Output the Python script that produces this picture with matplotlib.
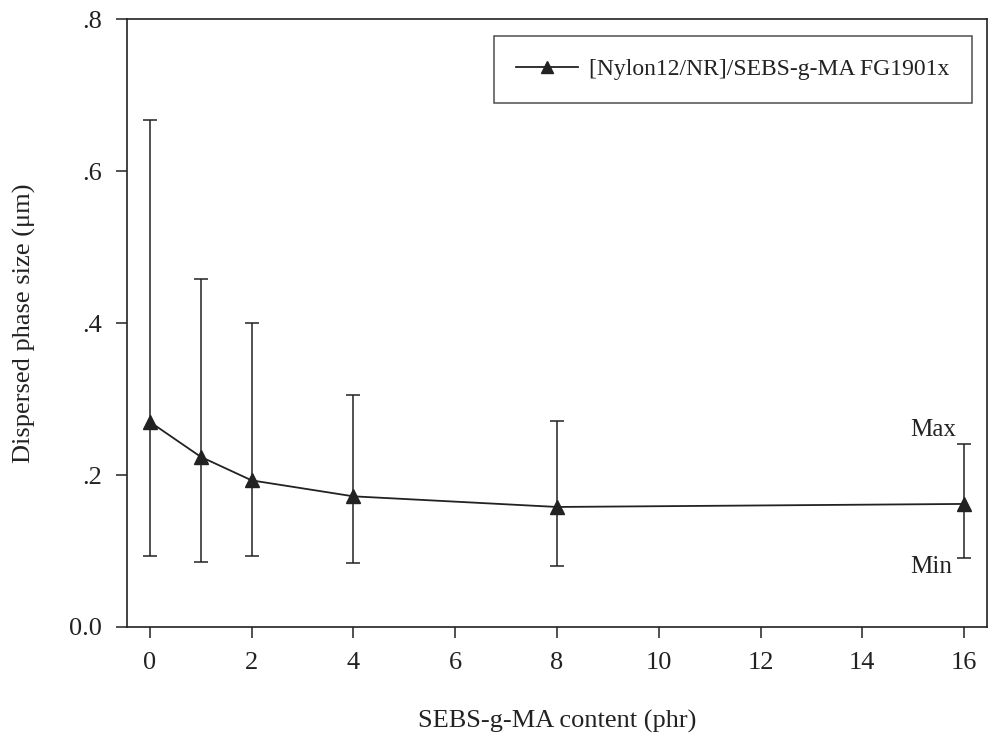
import numpy as np
import matplotlib
matplotlib.use("Agg")
import matplotlib.pyplot as plt
from matplotlib.lines import Line2D

# SEBS-g-MA content (phr) and dispersed phase size (um)
content = [0, 1, 2, 4, 8, 16]
size_avg = [0.270, 0.224, 0.193, 0.172, 0.158, 0.162]
size_max = [0.667, 0.458, 0.400, 0.305, 0.271, 0.241]
size_min = [0.093, 0.086, 0.093, 0.084, 0.080, 0.091]

x_ticks = [0, 2, 4, 6, 8, 10, 12, 14, 16]
y_ticks = [0.0, 0.2, 0.4, 0.6, 0.8]
y_tick_labels = ["0.0", ".2", ".4", ".6", ".8"]

series_name = "[Nylon12/NR]/SEBS-g-MA FG1901x"

plt.rcParams["font.family"] = ["Liberation Serif", "DejaVu Serif"]
ink = "#222222"

fig = plt.figure(figsize=(9.89, 7.42), dpi=100)
ax = fig.add_axes([0.1284, 0.155, 0.8696, 0.819])

avg = np.array(size_avg)
yerr = [avg - np.array(size_min), np.array(size_max) - avg]
ax.errorbar(content, size_avg, yerr=yerr, color=ink, lw=1.3, elinewidth=1.1,
            capsize=5, capthick=1.1, marker="^", markersize=10)

ax.set_xlim(-0.45, 16.45)
ax.set_ylim(0, 0.8)
ax.set_xticks(x_ticks)
ax.set_yticks(y_ticks)
ax.set_yticklabels(y_tick_labels)
ax.tick_params(direction="out", length=8, width=1.1, colors=ink,
               labelsize=19, pad=10)
for s in ax.spines.values():
    s.set_color(ink)
    s.set_linewidth(1.2)

ax.set_xlabel("SEBS-g-MA content (phr)", fontsize=19, color=ink, labelpad=26)
ax.set_ylabel("Dispersed phase size (\u03bcm)", fontsize=19, color=ink, labelpad=24)

ax.text(15.85, 0.259, "Max", ha="right", va="center", fontsize=18, color=ink)
ax.text(15.76, 0.079, "Min", ha="right", va="center", fontsize=18, color=ink)

handle = Line2D([], [], color=ink, lw=1.3, marker="^", markersize=8)
leg = ax.legend([handle], [series_name], loc="upper right",
                bbox_to_anchor=(0.9965, 0.9915), fontsize=17,
                frameon=True, fancybox=False, handlelength=2.6,
                borderpad=0.95, handletextpad=0.5)
leg.get_frame().set_edgecolor(ink)
leg.get_frame().set_linewidth(1.1)
for t in leg.get_texts():
    t.set_color(ink)

fig.savefig("out.png", dpi=100)
